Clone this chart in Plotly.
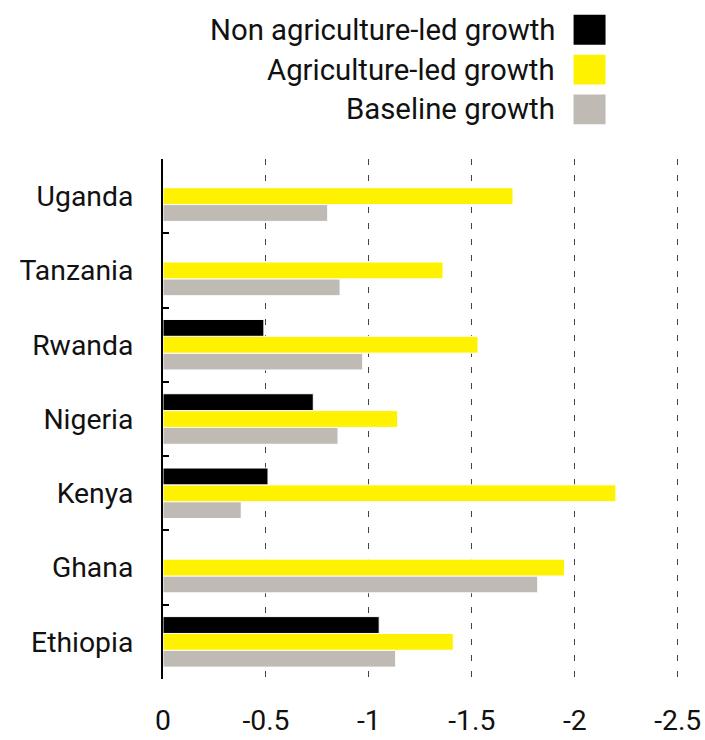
import plotly.graph_objects as go

countries = ["Ethiopia", "Ghana", "Kenya", "Nigeria", "Rwanda", "Tanzania", "Uganda"]
non_agri = [-1.05, None, -0.51, -0.73, -0.49, None, None]
agri = [-1.41, -1.95, -2.20, -1.14, -1.53, -1.36, -1.70]
baseline = [-1.13, -1.82, -0.38, -0.85, -0.97, -0.86, -0.80]

series_names = ["Non agriculture-led growth", "Agriculture-led growth", "Baseline growth"]
colors = ["#000000", "#fff200", "#bfbab3"]
tickvals = [0, -0.5, -1, -1.5, -2, -2.5]
ticktext = ["0", "-0.5", "-1", "-1.5", "-2", "-2.5"]

FONT = "Roboto, sans-serif"

# the captured page is slightly downscaled; compensate with a uniform factor
K = 1.012
W, H = round(705 * K), round(740 * K)
ML, MR, MT, MB = 161 * K, 18 * K, 157 * K, 60 * K
PW, PH = W - ML - MR, H - MT - MB

fig = go.Figure()
for name, vals, col in [(series_names[2], baseline, colors[2]),
                        (series_names[1], agri, colors[1]),
                        (series_names[0], non_agri, colors[0])]:
    fig.add_trace(go.Bar(y=countries, x=vals, orientation="h", name=name,
                         marker=dict(color=col, line=dict(color="white", width=1))))

fs = 28 * K
fig.update_layout(
    width=W, height=H,
    margin=dict(l=ML, r=MR, t=MT, b=MB, pad=0),
    barmode="group", bargap=0.32, bargroupgap=0,
    plot_bgcolor="white", paper_bgcolor="white",
    showlegend=False,
    font=dict(family=FONT, size=fs, color="#111111"),
    xaxis=dict(range=[0, -2.55], tickvals=tickvals, ticktext=ticktext,
               showgrid=True, gridcolor="#444444", gridwidth=1, griddash="6px,10px",
               zeroline=False, showline=False, ticks="", ticklabelstandoff=round(22 * K),
               tickfont=dict(family=FONT, size=fs)),
    yaxis=dict(categoryorder="array", categoryarray=countries,
               showline=True, linecolor="black", linewidth=2,
               ticks="inside", tickson="boundaries", ticklen=6, tickwidth=2, tickcolor="black",
               ticklabelstandoff=round(22 * K), showgrid=False,
               tickfont=dict(family=FONT, size=fs)),
)

def px_x(x):
    return (x * K - ML) / PW

def px_y(y):
    return 1 - (y * K - MT) / PH

# custom legend: text right-aligned, swatch to the right
legend_y = [27, 67, 107]
for name, col, yc in zip(series_names, colors, legend_y):
    fig.add_annotation(xref="paper", yref="paper", x=px_x(555), y=px_y(yc),
                       text=name, showarrow=False, xanchor="right", yanchor="middle",
                       font=dict(family=FONT, size=29 * K, color="#111111"))
    fig.add_shape(type="rect", xref="paper", yref="paper",
                  x0=px_x(572), x1=px_x(604), y0=px_y(yc + 15), y1=px_y(yc - 15),
                  fillcolor=col, line=dict(width=0))

fig.write_html("out.html", config={"displayModeBar": False},
               post_script="document.body.style.margin='0';document.documentElement.style.overflow='hidden';")
